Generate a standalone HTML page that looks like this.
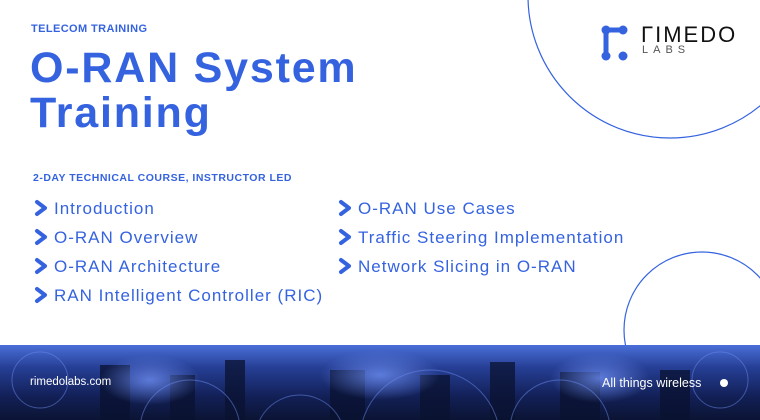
<!DOCTYPE html>
<html style="overflow:hidden"><head><style>
html,body{margin:0;width:760px;height:420px;overflow:hidden}
body{background:#fff;font-family:"Liberation Sans",sans-serif;position:relative}
.a{position:absolute;white-space:nowrap}
.blue{color:#3563e0}
.li{position:absolute;font-size:17px;color:#3563e0;white-space:nowrap;letter-spacing:1px}
.li svg{position:absolute;left:-20px;top:3px}
</style></head><body>
<svg class="a" style="left:0;top:0" width="760" height="420">
<defs>
<linearGradient id="g" x1="0" y1="0" x2="0" y2="1"><stop offset="0" stop-color="#4a6fd8"/><stop offset="0.3" stop-color="#263f95"/><stop offset="0.7" stop-color="#121f55"/><stop offset="1" stop-color="#0b1433"/></linearGradient>
<radialGradient id="r" cx="0.5" cy="0.5" r="0.5"><stop offset="0" stop-color="#6b8cf0" stop-opacity="0.8"/><stop offset="1" stop-color="#6b8cf0" stop-opacity="0"/></radialGradient>
<g id="ar"><path d="M3 2 L11 8 L3 14" fill="none" stroke="#3563e0" stroke-width="4" stroke-linecap="round" stroke-linejoin="round"/></g>
</defs>
<circle cx="670" cy="-4" r="142" fill="none" stroke="#3563e0" stroke-width="1.2"/>
<circle cx="702" cy="330" r="78" fill="none" stroke="#3563e0" stroke-width="1.2"/>
<rect x="0" y="345" width="760" height="75" fill="url(#g)"/>
<g fill="#0a1230" opacity="0.75">
<rect x="100" y="365" width="30" height="55"/><rect x="170" y="375" width="25" height="45"/><rect x="225" y="360" width="20" height="60"/><rect x="330" y="370" width="35" height="50"/><rect x="420" y="375" width="30" height="45"/><rect x="490" y="362" width="25" height="58"/><rect x="560" y="372" width="40" height="48"/><rect x="660" y="370" width="30" height="50"/>
</g>
<g fill="none" stroke="#6b8cf0" stroke-opacity="0.5" stroke-width="1">
<circle cx="40" cy="380" r="28"/><circle cx="190" cy="430" r="50"/><circle cx="430" cy="440" r="70"/><circle cx="560" cy="430" r="50"/><circle cx="720" cy="380" r="28"/><circle cx="300" cy="440" r="45"/>
</g>
<ellipse cx="380" cy="375" rx="60" ry="25" fill="url(#r)"/>
<ellipse cx="150" cy="380" rx="50" ry="25" fill="url(#r)"/>
<ellipse cx="600" cy="378" rx="50" ry="25" fill="url(#r)"/>
<circle cx="724" cy="383" r="4" fill="#fff"/>
<path d="M606 30 H622" stroke="#3563e0" stroke-width="5" stroke-linecap="round"/>
<path d="M606 30 V56" stroke="#3563e0" stroke-width="5" stroke-linecap="round"/>
<circle cx="606" cy="30" r="4.5" fill="#3563e0"/><circle cx="623" cy="30" r="4.5" fill="#3563e0"/>
<circle cx="606" cy="56" r="4.5" fill="#3563e0"/><circle cx="623" cy="56" r="4.5" fill="#3563e0"/>
<g transform="translate(34,200)"><use href="#ar"/></g>
<g transform="translate(34,229)"><use href="#ar"/></g>
<g transform="translate(34,258)"><use href="#ar"/></g>
<g transform="translate(34,287)"><use href="#ar"/></g>
<g transform="translate(338,200)"><use href="#ar"/></g>
<g transform="translate(338,229)"><use href="#ar"/></g>
<g transform="translate(338,258)"><use href="#ar"/></g>
</svg>
<div class="a" style="left:641px;top:22px;font-size:22px;letter-spacing:2px;color:#111">ΓIMEDO</div>
<div class="a" style="left:642px;top:44px;font-size:11px;letter-spacing:5px;color:#555">LABS</div>
<div class="a blue" style="left:31px;top:23px;font-size:11px;font-weight:bold;letter-spacing:0.4px">TELECOM TRAINING</div>
<div class="a blue" style="left:30px;top:46px;font-size:43px;font-weight:bold;letter-spacing:1.8px;line-height:45px">O-RAN System<br>Training</div>
<div class="a blue" style="left:33px;top:172px;font-size:10.5px;font-weight:bold;letter-spacing:0.5px">2-DAY TECHNICAL COURSE, INSTRUCTOR LED</div>
<div class="li" style="left:54px;top:199px">Introduction</div>
<div class="li" style="left:54px;top:228px">O-RAN Overview</div>
<div class="li" style="left:54px;top:257px">O-RAN Architecture</div>
<div class="li" style="left:54px;top:286px">RAN Intelligent Controller (RIC)</div>
<div class="li" style="left:358px;top:199px">O-RAN Use Cases</div>
<div class="li" style="left:358px;top:228px">Traffic Steering Implementation</div>
<div class="li" style="left:358px;top:257px">Network Slicing in O-RAN</div>
<div class="a" style="left:30px;top:376px;font-size:11.5px;color:#fff">rimedolabs.com</div>
<div class="a" style="left:602px;top:376px;font-size:12.5px;color:#fff">All things wireless</div>
</body></html>
